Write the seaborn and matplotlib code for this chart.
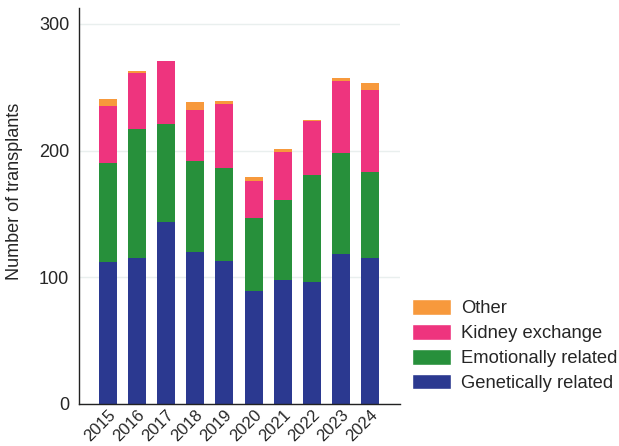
import numpy as np
import pandas as pd
import seaborn as sns
import matplotlib.pyplot as plt
from matplotlib.patches import Patch

years = ["2015", "2016", "2017", "2018", "2019", "2020", "2021", "2022", "2023", "2024"]
genetically = [112, 115, 144, 120, 113, 89, 98, 96, 118, 115]
emotionally = [78, 102, 77, 72, 73, 58, 63, 85, 80, 68]
kidney_exchange = [45, 44, 50, 40, 51, 29, 38, 42, 57, 65]
other = [6, 2, 0, 6, 2, 3, 2, 1, 2, 5]

categories = ["Genetically related", "Emotionally related", "Kidney exchange", "Other"]
colors = ["#2b3990", "#27903b", "#ee347e", "#f7993c"]

sns.set_style("white")
plt.rcParams["font.family"] = ["Liberation Sans", "DejaVu Sans"]

df = pd.DataFrame({"year": years, "Genetically related": genetically,
                   "Emotionally related": emotionally,
                   "Kidney exchange": kidney_exchange, "Other": other})
cum = df[categories].cumsum(axis=1)

fig = plt.figure(figsize=(6.19, 4.46), dpi=100)
ax = fig.add_axes([0.1276, 0.0942, 0.5185, 0.8878])

# draw from tallest stack down so each segment shows
for cat, col in reversed(list(zip(categories, colors))):
    sns.barplot(x=df["year"], y=cum[cat], color=col, width=0.62,
                saturation=1, linewidth=0, edgecolor="none", ax=ax, zorder=2)

ax.set_xlim(-1, 10.03)
ax.set_ylim(0, 312.5)
ax.set_yticks([0, 100, 200, 300])
ax.yaxis.grid(True, color="#e9efee", linewidth=1, zorder=0)
ax.set_axisbelow(True)
sns.despine(ax=ax)
for s in ["left", "bottom"]:
    ax.spines[s].set_color("#222222")
    ax.spines[s].set_linewidth(1)

ax.set_xlabel("")
ax.set_ylabel("Number of transplants", fontsize=13)
ax.yaxis.set_label_coords(-0.174, 0.538)
ax.tick_params(axis="y", length=5, width=1, color="#222222", labelsize=13, pad=2)
ax.tick_params(axis="x", length=0, labelsize=12, pad=2)
plt.setp(ax.get_xticklabels(), rotation=45, ha="right", rotation_mode="anchor")

handles = [Patch(facecolor=c, label=l) for l, c in zip(categories, colors)][::-1]
fig.legend(handles=handles, loc="lower left", bbox_to_anchor=(412 / 619, 54 / 446),
           bbox_transform=fig.transFigure, frameon=False, fontsize=13.2,
           handlelength=2.13, handleheight=0.93, handletextpad=0.55,
           labelspacing=0.37, borderpad=0, borderaxespad=0)

fig.savefig("out.png", dpi=100)
